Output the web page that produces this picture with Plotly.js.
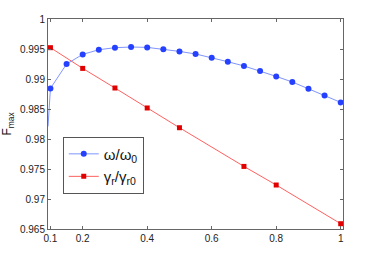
<!DOCTYPE html>
<html>
<head>
<meta charset="utf-8">
<script src="https://cdn.plot.ly/plotly-3.0.1.min.js"></script>
<style>html,body{margin:0;padding:0;background:#fff;}#chart{width:382px;height:259px;}</style>
</head>
<body>
<div id="chart"></div>
<script>
var omegaX = [0.0925, 0.1, 0.15, 0.2, 0.25, 0.3, 0.35, 0.4, 0.45, 0.5, 0.55, 0.6, 0.65, 0.7, 0.75, 0.8, 0.85, 0.9, 0.95, 1.0];
var omegaY = [0.9821, 0.98843, 0.9925, 0.9941, 0.99488, 0.99522, 0.99533, 0.99527, 0.99497, 0.9946, 0.99417, 0.99355, 0.99288, 0.99217, 0.99133, 0.99043, 0.9895, 0.98838, 0.98727, 0.9861];
var gammaX = [0.1, 0.2, 0.3, 0.4, 0.5, 0.7, 0.8, 1.0];
var gammaY = [0.99522, 0.99177, 0.9885, 0.98517, 0.98188, 0.97543, 0.97233, 0.96588];
var xTicks = [0.1, 0.2, 0.4, 0.6, 0.8, 1];
var xTickText = ['0.1', '0.2', '0.4', '0.6', '0.8', '1'];
var yTicks = [0.965, 0.97, 0.975, 0.98, 0.985, 0.99, 0.995, 1];
var yTickText = ['0.965', '0.97', '0.975', '0.98', '0.985', '0.99', '0.995', '1'];

var traces = [
  {x: omegaX.slice(0, 2), y: omegaY.slice(0, 2), type: 'scatter', mode: 'lines', showlegend: false,
   line: {color: '#7f95ff', width: 1}, hoverinfo: 'skip'},
  {x: omegaX.slice(1), y: omegaY.slice(1), type: 'scatter', mode: 'lines+markers', name: 'ω/ω<sub>0</sub>',
   line: {color: '#7f95ff', width: 1}, marker: {color: '#2541ff', size: 6, symbol: 'circle'}},
  {x: gammaX, y: gammaY, type: 'scatter', mode: 'lines+markers', name: 'γ<sub>r</sub>/γ<sub>r0</sub>',
   line: {color: '#ff6060', width: 1}, marker: {color: '#e00000', size: 5, symbol: 'square'}}
];
var axisCommon = {showgrid: false, zeroline: false, showline: true, mirror: 'ticks', linecolor: '#666', linewidth: 1,
  ticks: 'inside', ticklen: 3, tickcolor: '#666', tickfont: {family: 'Liberation Sans, Arial', size: 10, color: '#222'}};
var layout = {
  width: 382, height: 259,
  margin: {l: 48, r: 39, t: 19, b: 30},
  paper_bgcolor: '#fff', plot_bgcolor: '#fff',
  showlegend: true,
  legend: {x: 0.05, y: 0.44, xanchor: 'left', yanchor: 'top', bgcolor: '#fff', bordercolor: '#555', borderwidth: 1,
    font: {family: 'Liberation Sans, Arial', size: 15, color: '#111'}, itemwidth: 30},
  xaxis: Object.assign({}, axisCommon, {range: [0.0924, 1.0071], tickvals: xTicks, ticktext: xTickText}),
  yaxis: Object.assign({}, axisCommon, {range: [0.965, 1.0], tickvals: yTicks, ticktext: yTickText,
    title: {text: 'F<sub>max</sub>', font: {family: 'Liberation Sans, Arial', size: 12, color: '#111'}, standoff: 9}})
};
Plotly.newPlot('chart', traces, layout, {staticPlot: true, displayModeBar: false});
</script>
</body>
</html>
